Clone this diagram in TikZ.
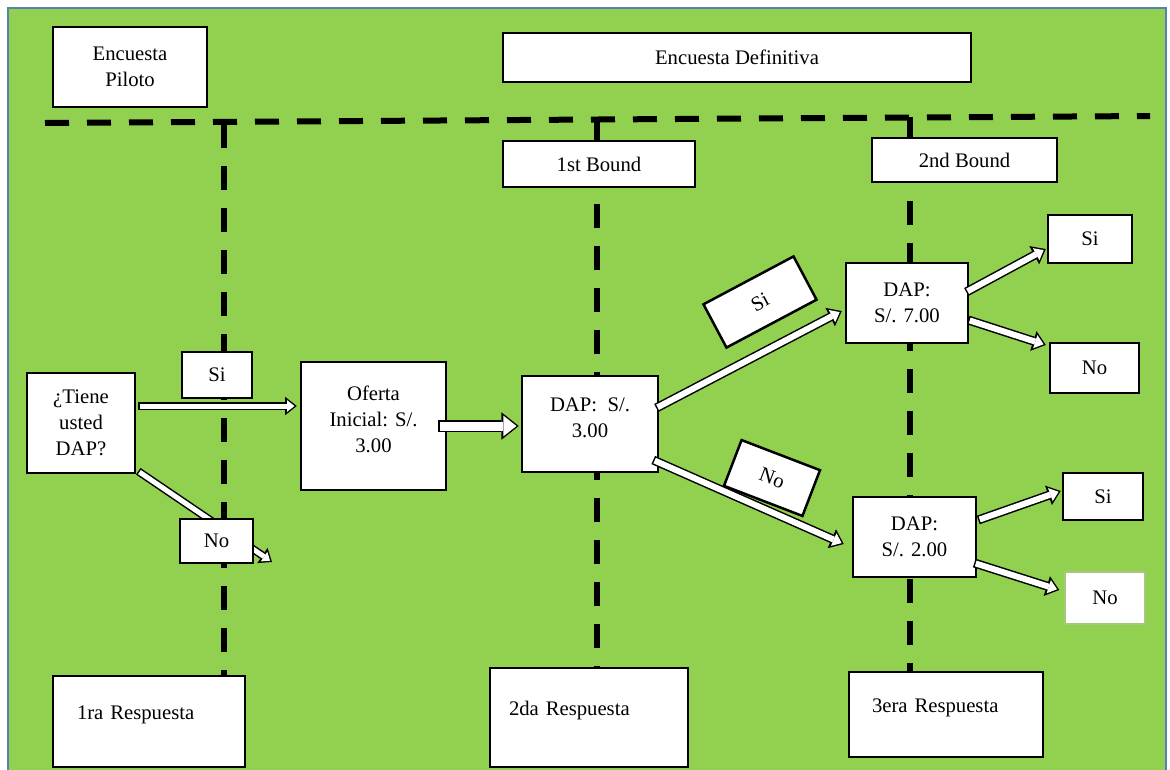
\documentclass[tikz,border=0pt]{standalone}
\usepackage{fontspec}
\setmainfont{Liberation Serif}
\usetikzlibrary{arrows.meta,calc}
\definecolor{fieldgreen}{RGB}{146,208,80}
\definecolor{frameblue}{RGB}{84,130,180}
\definecolor{softedge}{RGB}{165,200,125}
\tikzstyle{box} = [shape=rectangle,draw,line width=2.5pt,fill=white,align=center,inner sep=2pt]
\tikzstyle{divider} = [line width=6pt,dash pattern=on 24pt off 18pt]
\tikzset{
  shaftout/.style={draw=black,line width=#1,-{Triangle[length=0pt 1.45,width=0pt 2.3,line width=0pt]}},
  shaftin/.style={draw=white,line width={#1-3},shorten >=2.3pt,shorten <=1.5pt,-{Triangle[length=0pt 1.45,width=0pt 2.3,line width=0pt]}}
}
\newcommand{\hollowarrow}[3][9]{%
  \draw[shaftout=#1] #2 -- #3;
  \draw[shaftin=#1] #2 -- #3;}

\begin{document}
\begin{tikzpicture}[x=1pt,y=-1pt,every node/.style={font=\fontsize{20.7}{26}\selectfont}]
    \useasboundingbox (0,0) rectangle (1170,769);
    \clip (0,0) rectangle (1170,769);
    % background and frame
    \fill[white] (0,0) rectangle (1170,769);
    \fill[fieldgreen] (8,8) rectangle (1166,780);
    \draw[frameblue,line width=2pt] (8,780) -- (8,8) -- (1166,8) -- (1166,780);
    % dashed dividers
    \coordinate (ruleL) at (45,123);
    \coordinate (ruleR) at (1150,116);
    \coordinate (cutAtop) at (224,124);
    \coordinate (cutAbot) at (224,676);
    \coordinate (cutBtop) at (597,120);
    \coordinate (cutBbot) at (597,668);
    \coordinate (cutCtop) at (910,117);
    \coordinate (cutCbot) at (910,672);
    \draw[divider] (ruleL) -- (ruleR);
    \draw[divider] (cutAtop) -- (cutAbot);
    \draw[divider] (cutBtop) -- (cutBbot);
    \draw[divider] (cutCtop) -- (cutCbot);
    % create the nodes
    \node[box,minimum width=154pt,minimum height=80pt] (piloto) at (130,67) {Encuesta\\Piloto};
    \node[box,minimum width=468pt,minimum height=49pt] (definitiva) at (737,57.5) {Encuesta Definitiva};
    \node[box,minimum width=192pt,minimum height=46pt] (bound1) at (599,164) {1st Bound};
    \node[box,minimum width=185pt,minimum height=44pt] (bound2) at (964.5,160) {2nd Bound};
    \node[box,minimum width=108pt,minimum height=100pt] (tiene) at (81,423) {¿Tiene\\usted\\DAP?};
    \node[box,minimum width=145pt,minimum height=128pt] (oferta) at (373.5,426) {Oferta\\Inicial: S/.\\3.00\\[-12pt]\mbox{}};
    \node[box,minimum width=136pt,minimum height=96pt] (dap3) at (590,424) {DAP:\ \ S/.\\3.00\\[-14pt]\mbox{}};
    \node[box,minimum width=122pt,minimum height=80pt] (dap7) at (907,303) {DAP:\\S/. 7.00};
    \node[box,minimum width=123pt,minimum height=80pt] (dap2) at (914.5,537) {DAP:\\S/. 2.00};
    \node[box,minimum width=84pt,minimum height=48pt] (si1) at (1090,239) {Si};
    \node[box,minimum width=89pt,minimum height=50pt] (no1) at (1094.5,368) {No};
    \node[box,minimum width=80pt,minimum height=47pt] (si2) at (1103,496.5) {Si};
    \node[box,draw=softedge,line width=1.5pt,minimum width=80pt,minimum height=52pt] (no2) at (1105,598) {No};
    \node[box,align=left,text width=144pt,inner xsep=24pt,minimum height=91pt] (resp1) at (149,721.5) {1ra Respuesta\\[-8pt]\mbox{}};
    \node[box,align=left,text width=160pt,inner xsep=19pt,minimum height=99pt] (resp2) at (589,717.5) {2da Respuesta\\[-8pt]\mbox{}};
    \node[box,align=left,text width=148pt,inner xsep=23pt,minimum height=85pt] (resp3) at (946,714.5) {3era Respuesta\\[-8pt]\mbox{}};
    \node[box,rotate=28,minimum width=102pt,minimum height=49pt] (siB) at (760,302) {Si};
    \node[box,rotate=-21,minimum width=84pt,minimum height=49pt] (noB) at (772,478) {No};
    \coordinate (noEnd) at (272,562);
    % connect the nodes
    \hollowarrow[8]{($(tiene.south east)+(2,-3)$)}{(noEnd)}
    \hollowarrow[8]{($(tiene.east)+(2,-17)$)}{($(oferta.west)+(-3,-20)$)}
    \hollowarrow[12]{($(oferta.east)+(-9,0)$)}{($(dap3.west)+(-2,2)$)}
    \hollowarrow[9]{($(dap3.east)+(-3,-16)$)}{($(dap7.west)+(-3,8)$)}
    \hollowarrow[9]{($(dap3.east)+(-6,36)$)}{($(dap2.west)+(-8,7)$)}
    \hollowarrow[9]{($(dap7.east)+(-3,-11)$)}{($(si1.west)+(-1,10)$)}
    \hollowarrow[9]{($(dap7.east)+(-1,17)$)}{($(no1.west)+(-3,-23)$)}
    \hollowarrow[9]{($(dap2.east)+(1,-17)$)}{($(si2.west)+(-1,-5.5)$)}
    \hollowarrow[9]{($(dap2.east)+(-3,26)$)}{($(no2.west)+(-5,-8)$)}
    % labels on the first divider
    \node[box,minimum width=70pt,minimum height=46pt] (siA) at (217,375) {Si};
    \node[box,minimum width=73pt,minimum height=44pt] (noA) at (216.5,541) {No};
\end{tikzpicture}
\end{document}
